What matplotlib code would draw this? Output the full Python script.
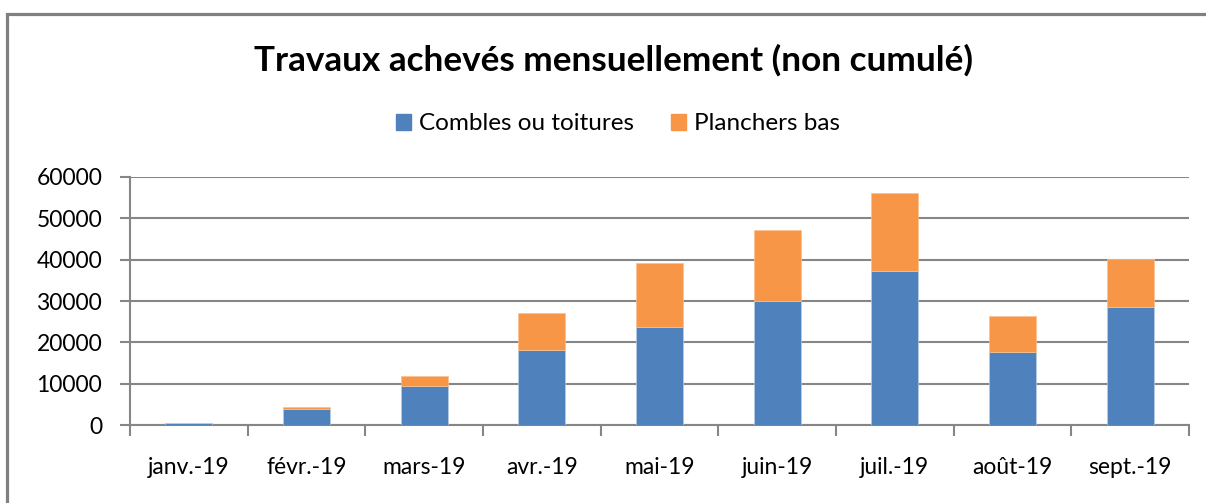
import matplotlib.pyplot as plt
import matplotlib.patches as mpatches
from matplotlib.lines import Line2D
import numpy as np

# valeurs
mois = ['janv.-19', 'févr.-19', 'mars-19', 'avr.-19', 'mai-19', 'juin-19',
        'juil.-19', 'août-19', 'sept.-19']
combles = [400, 3800, 9500, 18100, 23750, 29900, 37200, 17600, 28450]
planchers = [50, 550, 2300, 9100, 15400, 17200, 19000, 8750, 11600]
yticks = [0, 10000, 20000, 30000, 40000, 50000, 60000]

plt.rcParams['font.family'] = ['Lato', 'DejaVu Sans']
grey = '#868686'
blue = '#4F81BD'
orange = '#F79646'

fig = plt.figure(figsize=(12.06, 5.03), dpi=100)
ax = fig.add_axes([130 / 1206, 78 / 503, 1059 / 1206, 248 / 503])

x = np.arange(len(mois))
ax.bar(x, combles, width=0.4, color=blue, edgecolor='#b8cce4', linewidth=0.5, zorder=3)
ax.bar(x, planchers, width=0.4, bottom=combles, color=orange,
       edgecolor='#fac090', linewidth=0.5, zorder=3)

ax.set_xlim(-0.5, len(mois) - 0.5)
ax.set_ylim(0, 60000)
ax.set_yticks(yticks)
ax.set_yticklabels([str(v) for v in yticks], fontsize=16.5)
ax.yaxis.grid(True, color=grey, linewidth=1.5, zorder=0)

# ticks between the categories, labels centered on the bars
ax.set_xticks(np.arange(-0.5, len(mois), 1.0))
ax.set_xticklabels([])
ax.set_xticks(x, minor=True)
ax.set_xticklabels(mois, minor=True, fontsize=16.5)
ax.tick_params(axis='x', which='major', length=8, width=1.5, color=grey)
ax.tick_params(axis='x', which='minor', length=0, pad=23)
ax.tick_params(axis='y', length=7, width=1.5, color=grey, pad=13)

for s in ['top', 'right']:
    ax.spines[s].set_visible(False)
for s in ['left', 'bottom']:
    ax.spines[s].set_color(grey)
    ax.spines[s].set_linewidth(1.5)

fig.text(613 / 1206, 1 - 60 / 503, 'Travaux achevés mensuellement (non cumulé)',
         fontsize=25.3, fontweight='bold', ha='center', va='center')

handles = [mpatches.Patch(color=blue, label='Combles ou toitures'),
           mpatches.Patch(color=orange, label='Planchers bas')]
fig.legend(handles=handles, loc='center', bbox_to_anchor=(618 / 1206, 1 - 124 / 503),
           ncol=2, frameon=False, fontsize=17.5, handlelength=0.62, handleheight=0.62,
           handletextpad=0.3, columnspacing=1.55, borderpad=0)

# chart frame: only the left and top edges are inside the picture
fx = 7 / 1206
fy = 1 - 14 / 503
fig.lines.append(Line2D([fx, fx, 1], [0, fy, fy], transform=fig.transFigure,
                        color='#808080', linewidth=2.3, solid_joinstyle='miter'))

fig.savefig('out.png', dpi=100)
